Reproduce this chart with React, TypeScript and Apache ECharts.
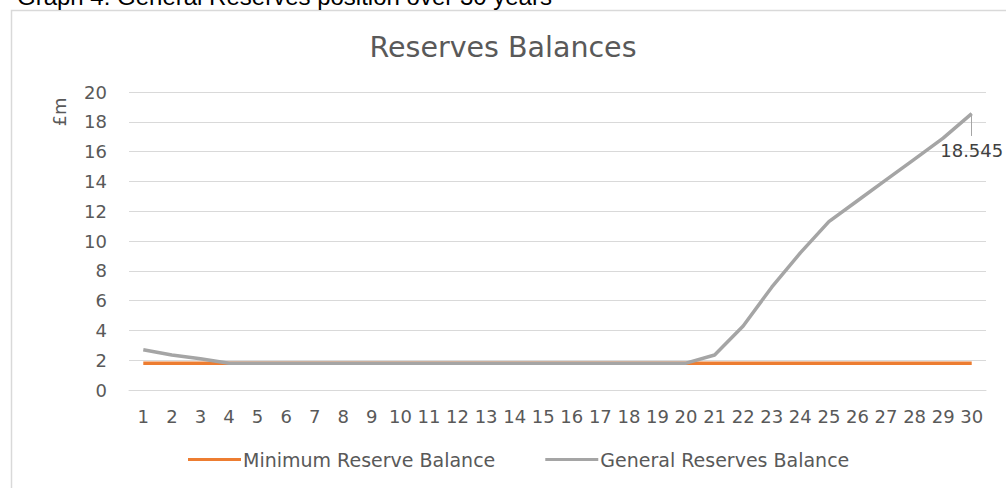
import React, { useEffect, useRef } from "react";
import * as echarts from "echarts";

const years = Array.from({ length: 30 }, (_, i) => String(i + 1));
const minimumReserve = [
  1.8, 1.8, 1.8, 1.8, 1.8, 1.8, 1.8, 1.8, 1.8, 1.8,
  1.8, 1.8, 1.8, 1.8, 1.8, 1.8, 1.8, 1.8, 1.8, 1.8,
  1.8, 1.8, 1.8, 1.8, 1.8, 1.8, 1.8, 1.8, 1.8, 1.8,
];
const generalReserves = [
  2.7, 2.35, 2.1, 1.8, 1.8, 1.8, 1.8, 1.8, 1.8, 1.8,
  1.8, 1.8, 1.8, 1.8, 1.8, 1.8, 1.8, 1.8, 1.8, 1.8,
  2.35, 4.3, 6.9, 9.2, 11.3, 12.7, 14.1, 15.5, 16.9, 18.545,
];
const yTicks = [0, 20, 2];

export default function App() {
  const ref = useRef<HTMLDivElement>(null);
  useEffect(() => {
    if (!ref.current) return;
    const chart = echarts.init(ref.current, null, { renderer: "svg" });
    const font = "'DejaVu Sans', 'Open Sans', sans-serif";
    const last = generalReserves.length - 1;
    chart.setOption({
      animation: false,
      backgroundColor: "#fff",
      textStyle: { fontFamily: font },
      title: {
        text: "Reserves Balances",
        left: "center",
        top: 28,
        textStyle: { fontSize: 28.5, fontWeight: "normal", color: "#595959", fontFamily: font },
      },
      graphic: [
        {
          type: "rect",
          shape: { x: 11.5, y: 10.5, width: 1000, height: 500 },
          style: { fill: "none", stroke: "#d9d9d9", lineWidth: 1.5 },
          z: -1,
        },
        {
          type: "text",
          x: 17,
          y: 8,
          style: {
            text: "Graph 4: General Reserves position over 30 years",
            font: "24px 'Liberation Sans', Arial, sans-serif",
            fill: "#000",
            textVerticalAlign: "bottom",
          },
        },
        {
          type: "text",
          x: 59,
          y: 112,
          rotation: Math.PI / 2,
          style: {
            text: "£m",
            font: `18px ${font}`,
            fill: "#595959",
            textAlign: "center",
            textVerticalAlign: "middle",
          },
        },
      ],
      legend: {
        bottom: 14,
        left: 183,
        itemGap: 50,
        itemWidth: 53,
        itemHeight: 3,
        icon: "rect",
        textStyle: { fontSize: 19, color: "#595959", fontFamily: font, padding: [0, 0, 0, -3] },
        data: ["Minimum Reserve Balance", "General Reserves Balance"],
      },
      grid: { left: 129, right: 20, top: 92, bottom: 98 },
      xAxis: {
        type: "category",
        data: years,
        boundaryGap: true,
        axisLine: { lineStyle: { color: "#d9d9d9" } },
        axisTick: { show: false },
        axisLabel: { color: "#595959", fontSize: 18, margin: 17, interval: 0, fontFamily: font },
      },
      yAxis: {
        type: "value",
        min: yTicks[0],
        max: yTicks[1],
        interval: yTicks[2],
        axisLine: { show: false },
        axisTick: { show: false },
        splitLine: { lineStyle: { color: "#d9d9d9" } },
        axisLabel: { color: "#595959", fontSize: 18, margin: 22, fontFamily: font },
      },
      series: [
        {
          name: "Minimum Reserve Balance",
          type: "line",
          data: minimumReserve,
          symbol: "none",
          color: "#ED7D31",
          lineStyle: { width: 3.5, color: "#ED7D31" },
        },
        {
          name: "General Reserves Balance",
          type: "line",
          data: generalReserves,
          symbol: "none",
          color: "#A5A5A5",
          lineStyle: { width: 3.5, color: "#A5A5A5" },
          markPoint: {
            symbol: "circle",
            symbolSize: 0,
            silent: true,
            label: {
              show: true,
              position: "bottom",
              distance: 28,
              formatter: (p: any) => String(p.value),
              color: "#404040",
              fontSize: 18,
              fontFamily: font,
            },
            data: [{ coord: [years[last], generalReserves[last]], value: generalReserves[last] }],
          },
          markLine: {
            silent: true,
            symbol: "none",
            label: { show: false },
            lineStyle: { color: "#A5A5A5", width: 1, type: "solid" },
            data: [
              [
                { coord: [years[last], generalReserves[last]] },
                { coord: [years[last], 17.05] },
              ],
            ],
          },
        },
      ],
    });
    return () => chart.dispose();
  }, []);
  return (
    <div
      ref={ref}
      style={{ position: "fixed", left: 0, top: 0, width: 1006, height: 488 }}
    />
  );
}
